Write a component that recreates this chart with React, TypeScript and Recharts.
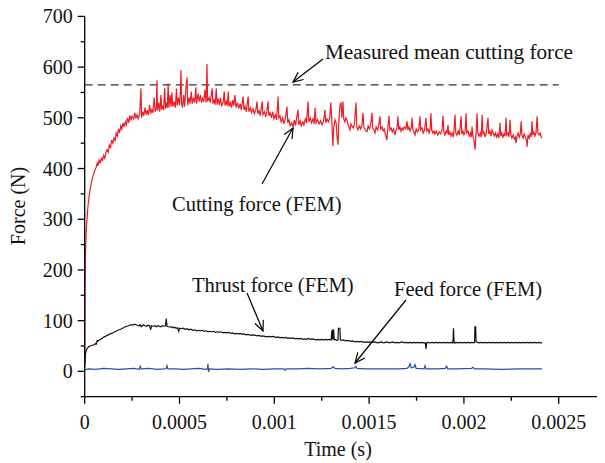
import React from 'react';
import { LineChart, Line, XAxis, YAxis, ReferenceLine } from 'recharts';

// time in microseconds, force in N
const cuttingForce: [number, number][] = [
  [0, 15], [1, 90], [2, 160], [3, 210], [5, 245], [8, 275], [12, 300], [17, 325], [23, 345], [30, 362],
  [38, 377], [46, 388], [55, 398], [62, 404], [66, 412], [70, 405], [76, 418], [82, 410], [88, 420], [94, 416],
  [100, 426], [106, 420], [112, 432], [118, 437], [124, 432], [130, 446], [136, 440], [142, 456], [148, 450], [154, 460],
  [160, 455], [166, 470], [172, 464], [178, 478], [184, 470], [190, 484], [196, 478], [202, 490], [208, 482], [214, 492],
  [220, 486], [226, 500], [232, 490], [238, 505], [244, 496], [250, 503], [258, 498], [264, 510], [270, 500], [276, 506],
  [282, 498], [290, 508], [297, 558], [300, 500], [306, 512], [312, 504], [318, 520], [324, 506], [330, 515], [336, 505],
  [342, 525], [348, 508], [354, 516], [360, 510], [366, 540], [372, 512], [378, 520], [381, 574], [384, 514], [390, 530],
  [396, 512], [402, 545], [406, 516], [412, 524], [416, 515], [422, 559], [426, 518], [432, 530], [436, 520], [440, 568],
  [444, 520], [450, 545], [455, 522], [460, 550], [465, 522], [472, 532], [478, 520], [484, 558], [488, 524], [494, 540],
  [500, 525], [504, 548], [508, 594], [511, 528], [516, 520], [522, 545], [527, 522], [534, 560], [540, 580], [543, 525],
  [550, 540], [556, 528], [562, 552], [567, 528], [574, 540], [580, 530], [586, 560], [590, 528], [598, 548], [604, 532],
  [610, 545], [616, 530], [622, 538], [628, 532], [634, 555], [640, 530], [645, 606], [648, 532], [656, 540], [662, 530],
  [667, 545], [672, 558], [676, 528], [682, 535], [688, 526], [694, 558], [698, 526], [704, 538], [710, 525], [716, 540],
  [722, 524], [730, 530], [736, 552], [740, 524], [746, 532], [752, 524], [757, 552], [761, 522], [768, 530], [774, 520],
  [780, 535], [786, 524], [792, 545], [798, 520], [806, 530], [812, 518], [820, 528], [826, 515], [835, 542], [840, 516],
  [846, 522], [852, 512], [862, 542], [866, 512], [874, 520], [880, 510], [888, 518], [895, 508], [902, 515], [909, 532],
  [913, 508], [920, 514], [926, 504], [936, 532], [940, 506], [948, 512], [954, 502], [960, 510], [967, 532], [971, 504],
  [978, 510], [985, 500], [992, 512], [998, 498], [1006, 506], [1012, 496], [1020, 542], [1024, 500], [1030, 504], [1036, 492],
  [1044, 500], [1050, 488], [1058, 498], [1067, 522], [1071, 490], [1078, 496], [1084, 484], [1092, 490], [1099, 482], [1106, 496],
  [1112, 485], [1118, 500], [1125, 516], [1129, 486], [1136, 494], [1142, 484], [1150, 492], [1156, 486], [1165, 500], [1170, 490],
  [1178, 532], [1182, 492], [1190, 500], [1196, 490], [1204, 498], [1210, 488], [1215, 520], [1220, 490], [1228, 496], [1236, 488],
  [1244, 494], [1252, 486], [1260, 494], [1267, 516], [1271, 490], [1278, 498], [1285, 492], [1292, 500], [1298, 530], [1303, 496],
  [1309, 444], [1313, 480], [1320, 496], [1326, 490], [1331, 462], [1336, 447], [1340, 490], [1346, 525], [1352, 530], [1356, 500],
  [1362, 532], [1366, 498], [1372, 492], [1378, 500], [1383, 496], [1390, 485], [1399, 476], [1404, 488], [1410, 484], [1416, 480],
  [1422, 486], [1431, 530], [1435, 482], [1441, 476], [1448, 484], [1455, 478], [1462, 486], [1468, 510], [1472, 482], [1478, 478],
  [1484, 474], [1489, 473], [1495, 484], [1502, 478], [1508, 486], [1515, 510], [1519, 480], [1525, 476], [1531, 470], [1537, 482],
  [1544, 476], [1550, 484], [1557, 503], [1561, 478], [1568, 482], [1574, 474], [1580, 478], [1587, 466], [1594, 456], [1598, 478],
  [1605, 504], [1609, 476], [1616, 480], [1622, 472], [1629, 478], [1636, 466], [1642, 476], [1647, 480], [1652, 503], [1656, 476],
  [1662, 482], [1668, 474], [1674, 480], [1679, 476], [1686, 482], [1693, 478], [1700, 493], [1704, 476], [1710, 482], [1716, 474],
  [1722, 480], [1726, 500], [1730, 478], [1736, 472], [1742, 466], [1748, 478], [1755, 472], [1762, 478], [1768, 503], [1772, 476],
  [1778, 480], [1785, 470], [1792, 476], [1800, 500], [1804, 474], [1810, 478], [1816, 470], [1822, 478], [1826, 509], [1830, 476],
  [1836, 470], [1842, 474], [1847, 468], [1854, 474], [1862, 466], [1870, 472], [1878, 468], [1884, 476], [1890, 504], [1894, 472],
  [1900, 466], [1906, 474], [1911, 470], [1916, 486], [1920, 466], [1926, 472], [1932, 464], [1938, 470], [1945, 462], [1953, 506],
  [1957, 470], [1963, 466], [1970, 474], [1976, 466], [1985, 503], [1989, 468], [1995, 474], [2000, 466], [2006, 472], [2011, 509],
  [2015, 470], [2022, 474], [2028, 464], [2034, 470], [2039, 462], [2043, 483], [2047, 464], [2053, 456], [2059, 437], [2064, 470],
  [2069, 509], [2073, 470], [2080, 464], [2086, 470], [2091, 462], [2096, 506], [2100, 468], [2106, 472], [2112, 462], [2118, 470],
  [2127, 500], [2131, 468], [2137, 474], [2143, 464], [2148, 476], [2154, 470], [2160, 464], [2166, 470], [2172, 462], [2178, 468],
  [2184, 460], [2190, 490], [2194, 464], [2200, 470], [2206, 462], [2212, 468], [2217, 464], [2222, 500], [2226, 466], [2232, 470],
  [2238, 462], [2243, 496], [2247, 468], [2253, 460], [2260, 466], [2266, 458], [2271, 462], [2275, 450], [2280, 464], [2286, 470],
  [2292, 462], [2297, 468], [2302, 493], [2306, 466], [2312, 460], [2318, 468], [2324, 462], [2330, 455], [2333, 443], [2338, 466],
  [2344, 460], [2350, 470], [2355, 462], [2359, 493], [2363, 466], [2369, 472], [2374, 464], [2380, 470], [2386, 503], [2390, 470],
  [2396, 466], [2402, 470], [2407, 462], [2412, 460],
];

const thrustForce: [number, number][] = [
  [0, 8], [2, 25], [4, 35], [8, 42], [14, 46], [20, 48], [28, 50], [36, 51], [44, 52], [52, 53],
  [58, 55], [62, 54], [66, 61], [70, 60], [78, 62], [86, 64], [94, 66], [102, 68], [110, 69], [118, 71],
  [126, 72], [134, 74], [142, 75], [150, 76], [158, 78], [166, 79], [174, 81], [182, 82], [190, 83], [198, 85],
  [206, 86], [214, 88], [222, 89], [230, 90], [238, 91], [246, 92], [254, 91], [262, 93], [270, 92], [278, 91],
  [286, 90], [292, 92], [298, 88], [304, 90], [310, 92], [318, 90], [326, 89], [334, 91], [342, 90], [348, 82],
  [352, 90], [362, 89], [370, 90], [378, 88], [386, 90], [394, 89], [402, 88], [410, 90], [418, 89], [426, 90],
  [430, 104], [434, 89], [442, 88], [450, 87], [458, 88], [466, 86], [474, 87], [482, 85], [490, 86], [496, 79],
  [500, 85], [510, 84], [520, 85], [530, 83], [540, 84], [550, 82], [560, 83], [570, 81], [580, 82], [590, 80],
  [600, 81], [610, 80], [620, 81], [630, 79], [640, 80], [650, 78], [660, 79], [670, 78], [680, 79], [690, 77],
  [700, 78], [710, 77], [720, 78], [730, 76], [740, 77], [750, 76], [760, 77], [770, 75], [780, 76], [790, 74],
  [800, 75], [810, 74], [820, 75], [830, 73], [840, 74], [850, 72], [860, 73], [870, 72], [880, 71], [890, 72],
  [900, 71], [910, 70], [920, 71], [930, 69], [940, 70], [950, 69], [960, 68], [970, 69], [980, 68], [990, 69],
  [1000, 68], [1010, 67], [1020, 68], [1030, 66], [1040, 67], [1050, 66], [1060, 67], [1070, 65], [1080, 66], [1090, 65],
  [1100, 66], [1110, 64], [1120, 65], [1130, 64], [1140, 65], [1150, 63], [1160, 64], [1170, 63], [1180, 65], [1190, 63],
  [1200, 64], [1210, 63], [1220, 62], [1230, 63], [1240, 62], [1250, 63], [1260, 62], [1270, 63], [1280, 62], [1290, 63],
  [1300, 62], [1303, 80], [1305, 63], [1308, 83], [1310, 63], [1313, 82], [1316, 62], [1322, 63], [1330, 61], [1336, 62],
  [1338, 85], [1346, 85], [1348, 62], [1356, 61], [1366, 62], [1376, 60], [1386, 61], [1396, 60], [1406, 59], [1416, 60],
  [1426, 58], [1436, 59], [1446, 58], [1456, 59], [1466, 58], [1476, 57], [1486, 58], [1496, 57], [1506, 58], [1516, 57],
  [1526, 58], [1536, 57], [1546, 56], [1556, 57], [1566, 58], [1576, 56], [1586, 57], [1596, 58], [1606, 56], [1616, 57],
  [1626, 58], [1636, 56], [1646, 57], [1656, 56], [1666, 57], [1676, 58], [1686, 56], [1696, 57], [1706, 56], [1716, 57],
  [1726, 56], [1736, 57], [1746, 56], [1756, 57], [1766, 56], [1776, 57], [1786, 56], [1796, 56], [1800, 44], [1803, 56],
  [1812, 57], [1822, 56], [1832, 57], [1842, 56], [1852, 57], [1862, 56], [1872, 57], [1882, 56], [1892, 57], [1902, 56],
  [1912, 57], [1922, 56], [1932, 57], [1942, 56], [1945, 85], [1948, 58], [1952, 56], [1962, 57], [1972, 56], [1982, 57],
  [1992, 56], [2002, 57], [2012, 56], [2022, 57], [2032, 56], [2042, 57], [2052, 56], [2056, 57], [2058, 88], [2062, 88],
  [2064, 58], [2072, 57], [2082, 56], [2092, 57], [2102, 56], [2112, 57], [2122, 56], [2132, 57], [2142, 56], [2152, 57],
  [2162, 56], [2172, 57], [2182, 56], [2192, 57], [2202, 56], [2212, 57], [2222, 56], [2232, 57], [2242, 56], [2252, 57],
  [2262, 56], [2272, 57], [2282, 56], [2292, 57], [2302, 56], [2312, 57], [2322, 56], [2332, 57], [2342, 56], [2352, 57],
  [2362, 56], [2372, 57], [2382, 56], [2392, 57], [2402, 56], [2412, 56],
];

const feedForce: [number, number][] = [
  [0, 3], [20, 5], [60, 4], [100, 6], [140, 5], [180, 4], [220, 5], [260, 6], [288, 4], [293, 10],
  [298, 5], [340, 6], [380, 4], [420, 5], [430, 6], [434, 11], [438, 5], [480, 5], [520, 4], [560, 5],
  [600, 6], [640, 4], [647, 5], [650, 15], [653, -1], [658, 5], [700, 4], [760, 5], [820, 4], [880, 5],
  [940, 4], [1000, 5], [1050, 5], [1057, 2], [1062, 5], [1120, 5], [1180, 6], [1240, 5], [1300, 6], [1310, 9],
  [1320, 6], [1360, 5], [1400, 6], [1424, 7], [1430, 10], [1436, 6], [1480, 5], [1540, 5], [1600, 5], [1660, 5],
  [1700, 6], [1710, 9], [1716, 15], [1722, 7], [1736, 8], [1742, 13], [1748, 6], [1790, 5], [1795, 11], [1800, 5],
  [1860, 5], [1902, 6], [1909, 10], [1915, 5], [1960, 5], [2040, 6], [2048, 8], [2056, 5], [2100, 5], [2200, 4],
  [2300, 5], [2412, 5],
];

const measuredMean = 565;

const xTicks = [0, 250, 500, 750, 1000, 1250, 1500, 1750, 2000, 2250, 2500];
const xTickLabels: Record<number, string> = {
  0: '0', 500: '0.0005', 1000: '0.001', 1500: '0.0015', 2000: '0.002', 2500: '0.0025',
};
const yTicks = [-50, 0, 50, 100, 150, 200, 250, 300, 350, 400, 450, 500, 550, 600, 650, 700];

const FONT = '"Liberation Serif", "Times New Roman", serif';
const W = 605;
const H = 463;

const toRows = (pts: [number, number][]) => pts.map(([t, f]) => ({ t, f }));

const XTick = ({ x, y, payload }: any) => {
  const label = xTickLabels[payload.value];
  return (
    <g>
      <line x1={x} x2={x} y1={y} y2={y + (label !== undefined ? 7 : 4)} stroke="#000" strokeWidth={1.3} />
      {label !== undefined && (
        <text x={x} y={y + 32} textAnchor="middle" fontFamily={FONT} fontSize={20} fill="#111">
          {label}
        </text>
      )}
    </g>
  );
};

const YTick = ({ x, y, payload }: any) => {
  const v = payload.value;
  const major = v % 100 === 0;
  return (
    <g>
      <line x1={x} x2={x - (major ? 7 : 4)} y1={y} y2={y} stroke="#000" strokeWidth={1.3} />
      {major && (
        <text x={x - 12} y={y + 7} textAnchor="end" fontFamily={FONT} fontSize={20} fill="#111">
          {v}
        </text>
      )}
    </g>
  );
};

// callouts and axis titles, in page pixels
const Annotations = () => (
  <svg width={W} height={H} style={{ position: 'absolute', left: 0, top: 0, pointerEvents: 'none' }}>
    <defs>
      <marker id="arrow" markerUnits="userSpaceOnUse" markerWidth={12} markerHeight={12} refX={11} refY={5} orient="auto">
        <path d="M1,0.5 L11,5 L1,9.5" fill="none" stroke="#000" strokeWidth={1.2} />
      </marker>
    </defs>
    <g fontFamily={FONT} fontSize={20.5} fill="#111">
      <text x={325} y={59} textLength={248} lengthAdjust="spacingAndGlyphs">Measured mean cutting force</text>
      <text x={172} y={211}>Cutting force (FEM)</text>
      <text x={192} y={292}>Thrust force (FEM)</text>
      <text x={394} y={296}>Feed force (FEM)</text>
    </g>
    <g fontFamily={FONT} fontSize={20} fill="#111">
      <text x={338} y={456} textAnchor="middle">Time (s)</text>
      <text transform="translate(25, 206) rotate(-90)" textAnchor="middle">Force (N)</text>
    </g>
    <g stroke="#000" strokeWidth={1.2}>
      <line x1={323} y1={59} x2={293} y2={82} markerEnd="url(#arrow)" />
      <line x1={262} y1={184} x2={293} y2={128} markerEnd="url(#arrow)" />
      <line x1={247} y1={293} x2={263} y2={331} markerEnd="url(#arrow)" />
      <line x1={406} y1={300} x2={355} y2={363} markerEnd="url(#arrow)" />
    </g>
  </svg>
);

export default function App() {
  return (
    <div style={{ position: 'relative', width: W, height: H, marginLeft: -8, marginTop: -8 }}>
      <LineChart width={W} height={H} margin={{ top: 16.4, right: 0, bottom: 0, left: 0 }}>
        <XAxis
          type="number"
          dataKey="t"
          domain={[0, 2744]}
          ticks={xTicks}
          allowDataOverflow
          height={66.3}
          axisLine={{ stroke: '#000', strokeWidth: 1.3 }}
          tickLine={false}
          tickSize={0}
          tickMargin={0}
          tick={<XTick />}
          interval={0}
        />
        <YAxis
          type="number"
          domain={[-50, 700]}
          ticks={yTicks}
          allowDataOverflow
          width={84.7}
          axisLine={{ stroke: '#000', strokeWidth: 1.3 }}
          tickLine={false}
          tickSize={0}
          tickMargin={0}
          tick={<YTick />}
          interval={0}
        />
        <ReferenceLine
          segment={[{ x: 0, y: measuredMean }, { x: 2500, y: measuredMean }]}
          stroke="#333"
          strokeWidth={1.3}
          strokeDasharray="8 5"
        />
        <Line data={toRows(cuttingForce)} dataKey="f" stroke="#ee1c25" strokeWidth={1.2} dot={false} isAnimationActive={false} />
        <Line data={toRows(thrustForce)} dataKey="f" stroke="#111" strokeWidth={1.2} dot={false} isAnimationActive={false} />
        <Line data={toRows(feedForce)} dataKey="f" stroke="#2b4fa6" strokeWidth={1.2} dot={false} isAnimationActive={false} />
      </LineChart>
      <Annotations />
    </div>
  );
}
